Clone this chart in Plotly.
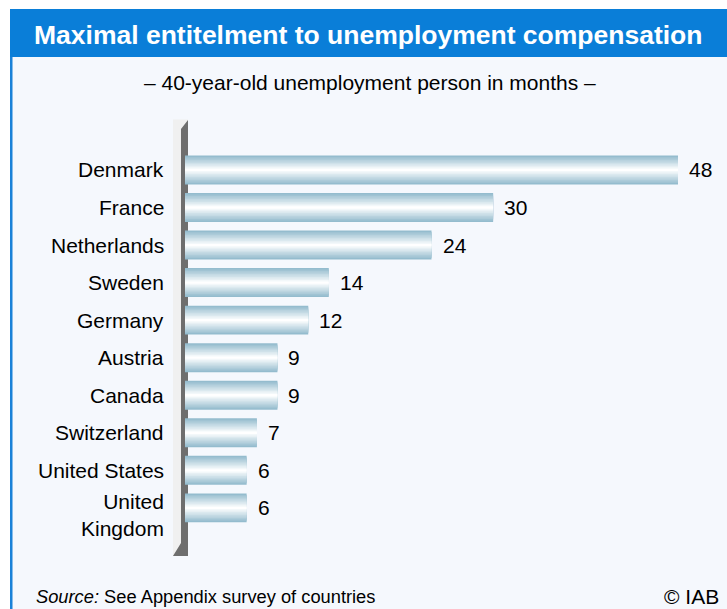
import plotly.graph_objects as go

countries = ["Denmark", "France", "Netherlands", "Sweden", "Germany", "Austria",
             "Canada", "Switzerland", "United States", "United<br>Kingdom"]
months = [48, 30, 24, 14, 12, 9, 9, 7, 6, 6]

title_text = "Maximal entitelment to unemployment compensation"
subtitle_text = "\u2013 40-year-old unemployment person in months \u2013"
source_text = "<i>Source:</i> See Appendix survey of countries"
credit_text = "\u00a9 IAB"

W, H = 727, 609
def px(x):
    return x / W
def py(y):
    return 1 - y / H

fig = go.Figure()

# gradient bars via overlaid narrowing bars
edge = (148, 188, 206)
n_layers = 10
full_w = 0.77
for i in range(n_layers):
    t = i / (n_layers - 1)
    c = tuple(int(round(e + (255 - e) * t)) for e in edge)
    w = full_w * (1 - t * 0.92)
    fig.add_trace(go.Bar(
        x=months, y=countries, orientation="h",
        width=w, marker=dict(color="rgb(%d,%d,%d)" % c, line=dict(width=0)),
        hoverinfo="skip", showlegend=False,
    ))

for c, v in zip(countries, months):
    fig.add_annotation(x=v, y=c, xref="x", yref="y", text=str(v),
                       showarrow=False, xanchor="left", xshift=9,
                       font=dict(size=21, color="black"))

# category labels
for c in countries:
    multi = "<br>" in c
    fig.add_annotation(x=0, y=c, xref="x", yref="y", text=c, align="right",
                       showarrow=False, xanchor="right", xshift=-19,
                       yshift=-7 if multi else 0,
                       font=dict(size=21, color="black"))

shapes = []
# outer frame background
shapes.append(dict(type="rect", xref="paper", yref="paper", x0=px(11), x1=px(W + 5),
                   y0=py(H + 5), y1=py(9), fillcolor="#F5F8FD", line=dict(width=0), layer="below"))
# left border
shapes.append(dict(type="rect", xref="paper", yref="paper", x0=px(10), x1=px(12.5),
                   y0=py(H + 5), y1=py(9), fillcolor="#1A82D8", line=dict(width=0), layer="below"))
# title bar
shapes.append(dict(type="rect", xref="paper", yref="paper", x0=px(10), x1=px(W + 5),
                   y0=py(57), y1=py(9), fillcolor="#0A7ED8", line=dict(width=0), layer="below"))
# 3D axis wall: light side
shapes.append(dict(type="path", xref="paper", yref="paper",
                   path="M %f %f L %f %f L %f %f L %f %f Z" % (
                       px(173), py(119.5), px(188), py(119.5), px(188), py(556), px(173), py(556)),
                   fillcolor="#F0F0F0", line=dict(width=0), layer="below"))
# dark wall
shapes.append(dict(type="path", xref="paper", yref="paper",
                   path="M %f %f L %f %f L %f %f L %f %f L %f %f L %f %f Z" % (
                       px(181), py(129), px(188), py(120), px(188), py(556),
                       px(173), py(556), px(181), py(543), px(181), py(129)),
                   fillcolor="#6E6E6E", line=dict(width=0), layer="below"))
fig.update_layout(shapes=shapes)

# texts
fig.add_annotation(xref="paper", yref="paper", x=px(368), y=py(35), text="<b>" + title_text + "</b>",
                   showarrow=False, xanchor="center", yanchor="middle",
                   font=dict(size=26.5, color="white", family="Liberation Sans, Arial"))
fig.add_annotation(xref="paper", yref="paper", x=px(370), y=py(82), text=subtitle_text,
                   showarrow=False, xanchor="center", yanchor="middle",
                   font=dict(size=21, color="black"))
fig.add_annotation(xref="paper", yref="paper", x=px(34), y=py(596), text=source_text,
                   showarrow=False, xanchor="left", yanchor="middle",
                   font=dict(size=18.3, color="black"))
fig.add_annotation(xref="paper", yref="paper", x=px(721), y=py(596), text=credit_text,
                   showarrow=False, xanchor="right", yanchor="middle",
                   font=dict(size=21, color="black"))

row_h = 37.67
top = 170 - row_h / 2
bottom = top + row_h * len(countries)
x_scale = (678 - 185) / 48.0
x_max = 50
fig.update_layout(
    width=W, height=H,
    margin=dict(l=0, r=0, t=0, b=0),
    paper_bgcolor="white", plot_bgcolor="rgba(0,0,0,0)",
    barmode="overlay",
    font=dict(family="Liberation Sans, Arial", color="black"),
    xaxis=dict(domain=[px(185), px(185 + x_scale * x_max)], range=[0, x_max],
               visible=False, fixedrange=True),
    yaxis=dict(domain=[py(bottom), py(top)], autorange="reversed", type="category",
               showgrid=False, zeroline=False, showline=False, showticklabels=False,
               ticks=""),
)

fig.write_html("out.html")
